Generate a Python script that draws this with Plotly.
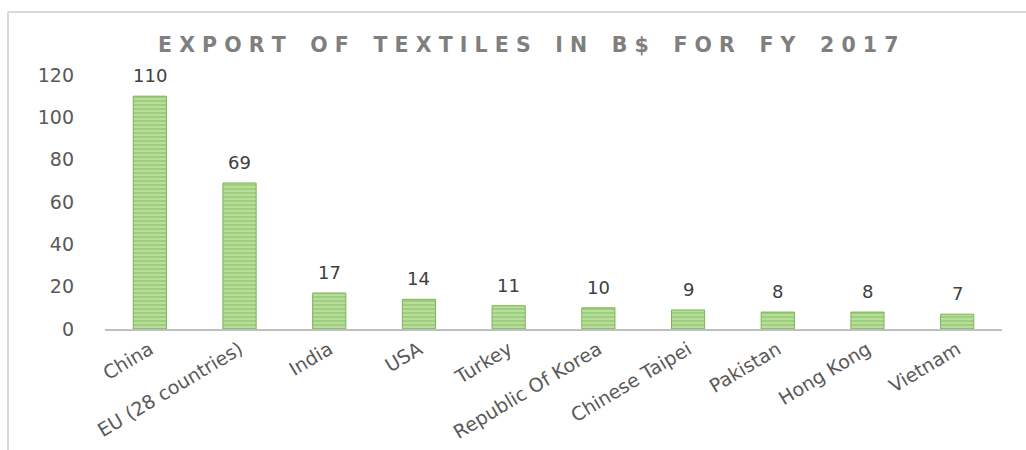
import plotly.graph_objects as go

categories = ["China", "EU (28 countries)", "India", "USA", "Turkey",
              "Republic Of Korea", "Chinese Taipei", "Pakistan", "Hong Kong", "Vietnam"]
values = [110, 69, 17, 14, 11, 10, 9, 8, 8, 7]
y_ticks = [0, 20, 40, 60, 80, 100, 120]
title_text = "EXPORT OF TEXTILES IN B$ FOR FY 2017"

W, H = 1026, 450
ML, MR, MT, MB = 105, 24, 75, 121
pw, ph = W - ML - MR, H - MT - MB
FONT = "DejaVu Sans"

def spaced(s):
    words = s.split(" ")
    return "\u2003\u2009".join(" ".join(list(w)) for w in words)

fig = go.Figure()
fig.add_trace(go.Bar(
    x=categories, y=values,
    width=0.37,
    marker=dict(
        color="#b3da96",
        line=dict(color="#7cb356", width=1),
        pattern=dict(shape="-", fgcolor="#6fae45", bgcolor="#b8de9c",
                     size=4, solidity=0.35, fillmode="overlay"),
    ),
    hoverinfo="skip",
))

for c, v in zip(categories, values):
    fig.add_annotation(x=c, y=v, text=str(v), showarrow=False, yanchor="bottom",
                       yshift=8, font=dict(family=FONT, size=18, color="#404040"))

def px_x(p):
    return (p - ML) / pw

def px_y(p):
    return (H - MB - p) / ph

# frame lines of the chart box
fig.add_shape(type="line", xref="paper", yref="paper",
              x0=px_x(8), x1=px_x(W), y0=px_y(12), y1=px_y(12),
              line=dict(color="#d9d9d9", width=2))
fig.add_shape(type="line", xref="paper", yref="paper",
              x0=px_x(8), x1=px_x(8), y0=px_y(12), y1=px_y(H),
              line=dict(color="#d9d9d9", width=2))

fig.add_annotation(xref="paper", yref="paper", x=px_x(528), y=px_y(45),
                   text=spaced(title_text), showarrow=False,
                   xanchor="center", yanchor="middle",
                   font=dict(family=FONT, size=20.5, color="#7f7f7f", weight="bold"))

fig.update_layout(
    width=W, height=H,
    margin=dict(l=ML, r=MR, t=MT, b=MB, autoexpand=False),
    paper_bgcolor="white", plot_bgcolor="white",
    showlegend=False,
    xaxis=dict(
        showline=True, linecolor="#bfbfbf", linewidth=2,
        tickangle=-31, ticks="", showgrid=False, automargin=False,
        tickfont=dict(family=FONT, size=19, color="#595959"),
        range=[-0.5, 9.5],
    ),
    yaxis=dict(
        range=[0, 120], tickvals=y_ticks, showgrid=False, zeroline=False,
        showline=False, ticks="", ticklabelstandoff=30, automargin=False,
        tickfont=dict(family=FONT, size=19, color="#595959"),
    ),
)

fig.write_html("out.html")
